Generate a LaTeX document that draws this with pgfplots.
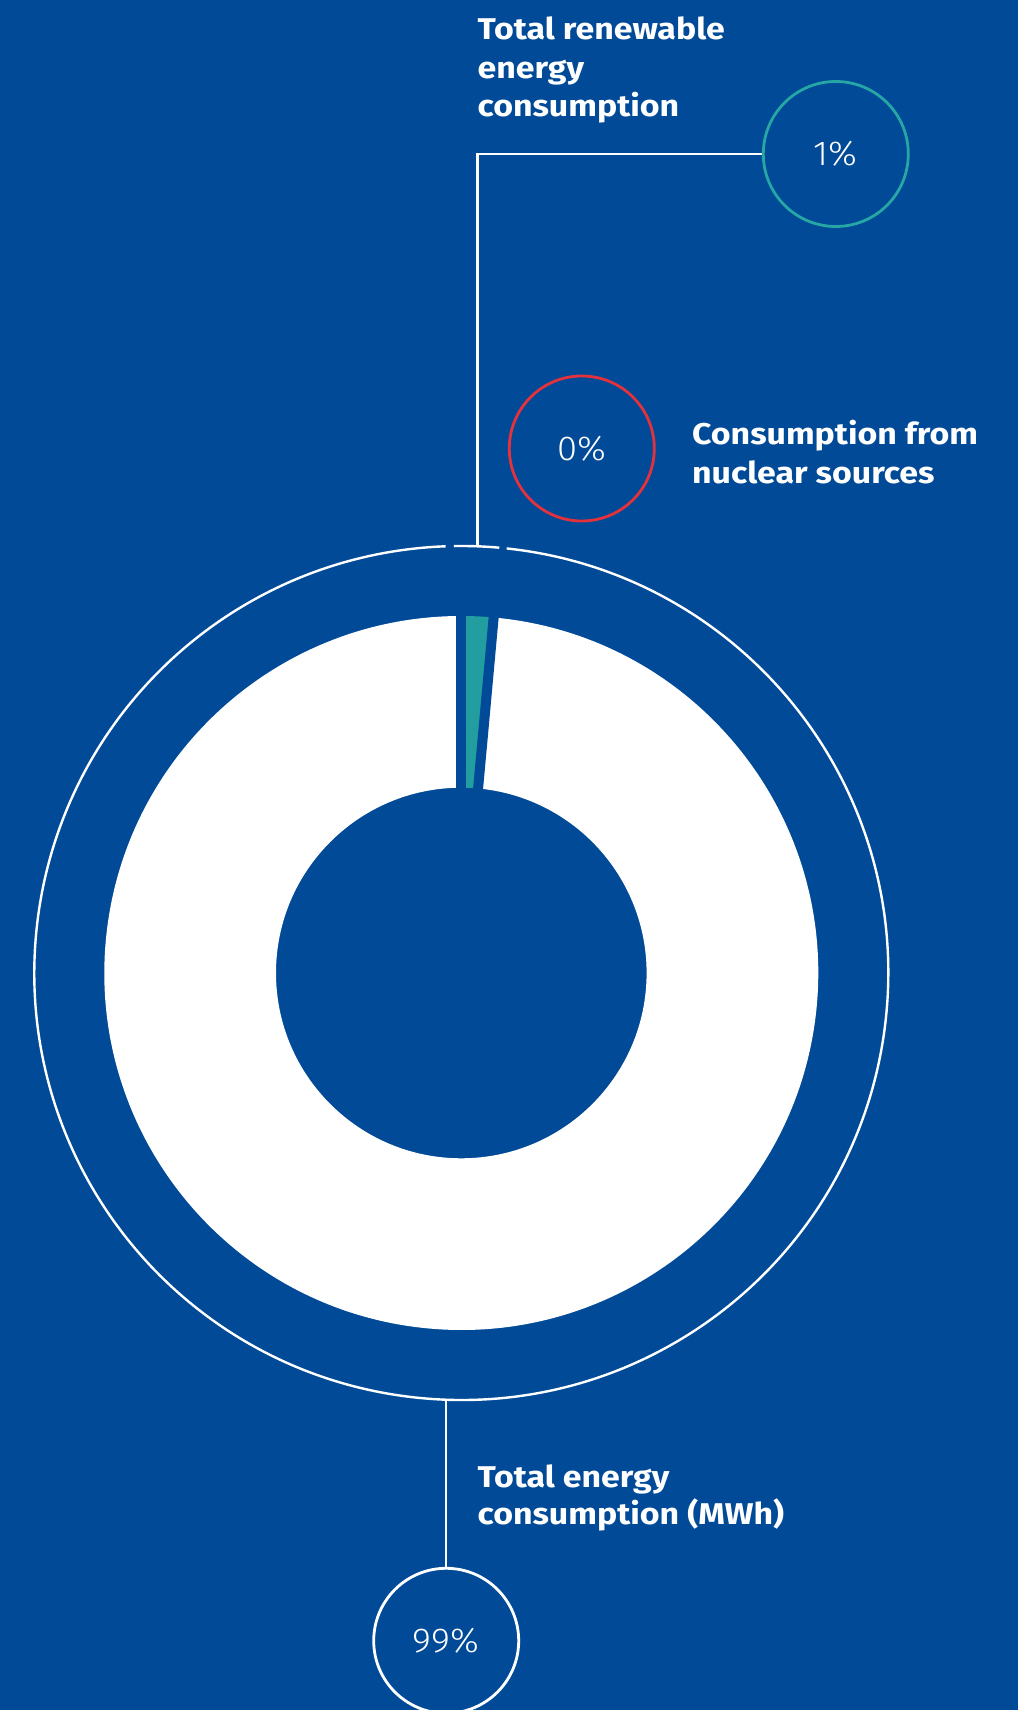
\documentclass[border=0pt]{standalone}
\usepackage{fontspec}
\setmainfont{Fira Sans}
\newfontfamily\lightfont{Fira Sans Light}[FakeStretch=1.05]
\newfontfamily\labfont{Fira Sans Bold}[FakeStretch=1.13]
\usepackage{pgfplots}
\pgfplotsset{compat=1.18}
\definecolor{bgblue}{RGB}{0,74,152}
\definecolor{tealfill}{RGB}{35,158,160}
\definecolor{tealring}{RGB}{38,166,164}
\definecolor{redring}{RGB}{228,50,60}
\begin{document}
\begin{tikzpicture}
\begin{axis}[x=0.5pt,y=0.5pt,xmin=0,xmax=1018,ymin=0,ymax=1710,
  hide axis,clip=true,scale only axis]
\fill[bgblue] (axis cs:0,0) rectangle (axis cs:1018,1710);
\coordinate (SW) at (axis cs:0,0);
\coordinate (NE) at (axis cs:1018,1710);
\coordinate (C) at (axis cs:461.3,737);
% slices: total 98.55% (354.8 deg, white), renewable 1.45% (5.2 deg, teal), nuclear 0%
\fill[white] ([shift={(84.8:178.5pt)}]C) arc[start angle=84.8,end angle=-270,radius=178.5pt]
  -- ([shift={(-270:92.65pt)}]C) arc[start angle=-270,end angle=84.8,radius=92.65pt] -- cycle;
\fill[tealfill] ([shift={(90:178.5pt)}]C) arc[start angle=90,end angle=84.8,radius=178.5pt]
  -- ([shift={(84.8:92.65pt)}]C) arc[start angle=84.8,end angle=90,radius=92.65pt] -- cycle;
% separators
\draw[bgblue,line width=5pt] ([shift={(90:88pt)}]C) -- ([shift={(90:183pt)}]C);
\draw[bgblue,line width=5pt] ([shift={(84.8:88pt)}]C) -- ([shift={(84.8:183pt)}]C);
% outer thin ring
\draw[white,line width=1.2pt] ([shift={(91:213.5pt)}]C) arc[start angle=91,end angle=84.9,radius=213.5pt];
\draw[white,line width=1.2pt] ([shift={(83.9:213.5pt)}]C) arc[start angle=83.9,end angle=-267.9,radius=213.5pt];
% leaders
\draw[white,line width=1.3pt] (axis cs:477.3,1163.7) -- (axis cs:477.3,1556) -- (axis cs:763.3,1556);
\draw[white,line width=1.3pt] (axis cs:446,310.7) -- (axis cs:446,141.7);
% bubbles
\draw[tealring,line width=1.4pt] (axis cs:835.8,1556) circle[radius=36.25pt];
\draw[redring,line width=1.4pt] (axis cs:581.8,1261.5) circle[radius=36.25pt];
\draw[white,line width=1.4pt] (axis cs:446.2,69.2) circle[radius=36.25pt];
\node[anchor=center,text=white,inner sep=0] at (axis cs:835.8,1556) {\lightfont\fontsize{17.3}{20}\selectfont 1\%};
\node[anchor=center,text=white,inner sep=0] at (axis cs:581.8,1261.5) {\lightfont\fontsize{17.3}{20}\selectfont 0\%};
\node[anchor=center,text=white,inner sep=0] at (axis cs:446.2,69.2) {\lightfont\fontsize{17.3}{20}\selectfont 99\%};
% labels
\tikzset{lab/.style={anchor=base west,inner sep=0,text=white,font=\labfont\fontsize{15}{18}\selectfont}}
\node[lab] at (axis cs:477.3,1670.7) {Total renewable};
\node[lab] at (axis cs:477.3,1631.7) {energy};
\node[lab] at (axis cs:477.3,1593.3) {consumption};
\node[lab] at (axis cs:691.7,1265) {Consumption from};
\node[lab] at (axis cs:691.7,1226) {nuclear sources};
\node[lab] at (axis cs:477.3,222.7) {Total energy};
\node[lab] at (axis cs:477.3,185) {consumption (MWh)};
\end{axis}
\pgfresetboundingbox
\useasboundingbox (SW) rectangle (NE);
\end{tikzpicture}
\end{document}
